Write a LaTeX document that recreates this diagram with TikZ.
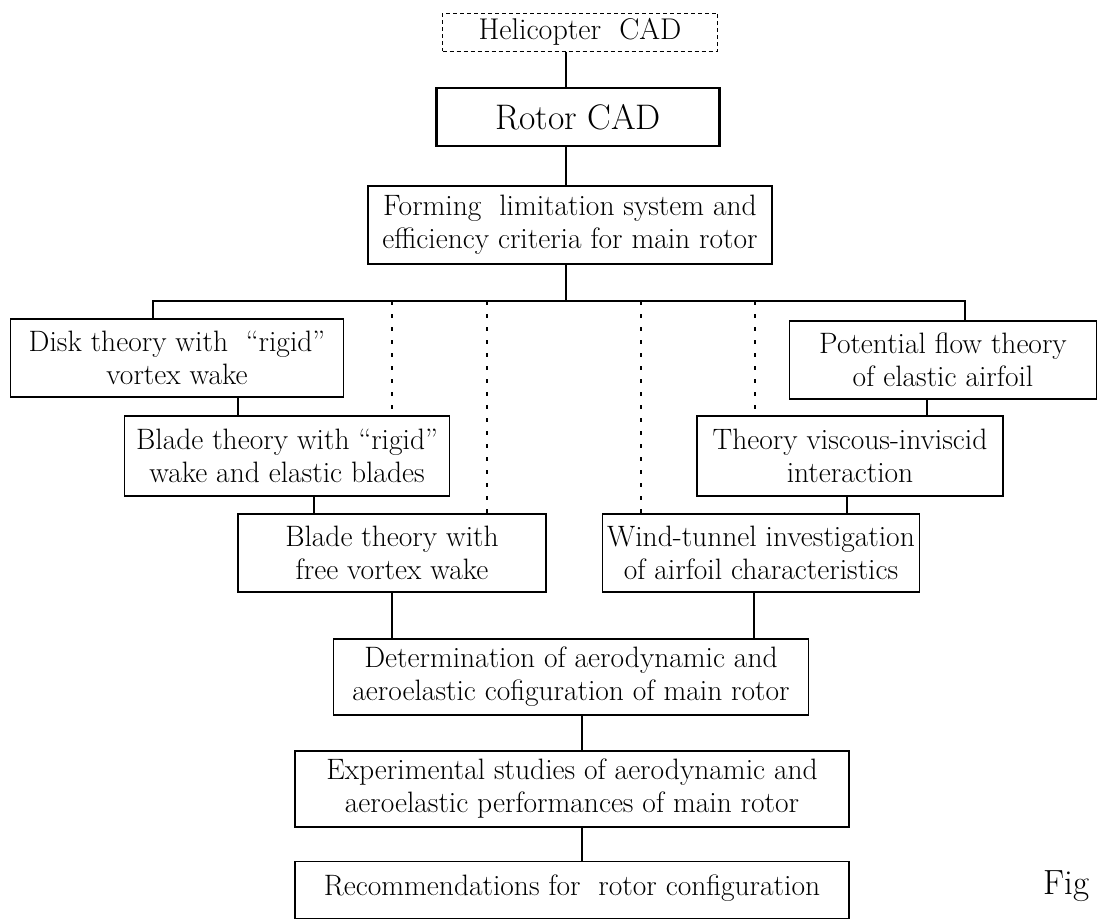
\documentclass[tikz,border=0pt]{standalone}
\begin{document}
\begin{tikzpicture}[x=1pt,y=-1pt,
  box/.style={draw, line width=1.8pt, rectangle, inner sep=0pt, align=center,
    font=\fontsize{29.5}{33}\selectfont},
  conn/.style={line width=1.2pt},
  dotline/.style={line width=1.5pt, dash pattern=on 4pt off 9pt},
]
\useasboundingbox (0,0) rectangle (1101,922);
% nodes
\node[box, line width=1pt, dash pattern=on 4pt off 3pt, minimum width=275, minimum height=38, font=\fontsize{30}{34}\selectfont] (heli) at (580,32) {Helicopter\ \ CAD};
\node[box, line width=2.6pt, minimum width=283, minimum height=58, font=\fontsize{35.5}{40}\selectfont] (rotor) at (578,117) {Rotor CAD};
\node[box, minimum width=404, minimum height=78] (form) at (570,225) {Forming\ \ limitation system and\\efficiency criteria for main rotor};
\node[box, minimum width=333, minimum height=78] (disk) at (177,358) {Disk theory with\ \ ``rigid''\\vortex wake};
\node[box, minimum width=325, minimum height=80] (bright) at (287,456) {Blade theory with ``rigid''\\wake and elastic blades};
\node[box, minimum width=308, minimum height=78] (bfree) at (392,553) {Blade theory with\\free vortex wake};
\node[box, minimum width=307, minimum height=78] (pot) at (943,360) {Potential flow theory\\of elastic airfoil};
\node[box, minimum width=306, minimum height=80] (theory) at (850,456) {Theory viscous-inviscid\\interaction};
\node[box, minimum width=317, minimum height=78] (wind) at (761,553) {Wind-tunnel investigation\\of airfoil characteristics};
\node[box, minimum width=475, minimum height=76] (det) at (571,677) {Determination of aerodynamic and\\aeroelastic cofiguration of main rotor};
\node[box, minimum width=554, minimum height=76] (exp) at (572,789) {Experimental studies of aerodynamic and\\aeroelastic performances of main rotor};
\node[box, minimum width=554, minimum height=57, text height=21pt, text depth=11pt] (rec) at (572,890) {Recommendations for\ \ rotor configuration};
\node[font=\fontsize{35}{40}\selectfont, inner sep=0pt, anchor=west] (fig) at (1043,886) {Fig};
% coordinates
\coordinate (cx) at (566,0);
\coordinate (bL) at (153,301);
\coordinate (bR) at (965,301);
\coordinate (d1) at (392,301);
\coordinate (d2) at (487,301);
\coordinate (d3) at (641,301);
\coordinate (d4) at (755,301);
\coordinate (c1) at (238,0);
\coordinate (c2) at (314,0);
\coordinate (c3) at (927,0);
\coordinate (c4) at (847,0);
\coordinate (c5) at (392,0);
\coordinate (c6) at (754,0);
\coordinate (c7) at (582,0);
% connectors
\draw[conn] (cx |- heli.south) -- (cx |- rotor.north);
\draw[conn] (cx |- rotor.south) -- (cx |- form.north);
\draw[conn] (cx |- form.south) -- (cx |- bL);
\draw[conn] (bL |- disk.north) -- (bL) -- (bR) -- (bR |- pot.north);
\draw[dotline] (d1) -- (d1 |- bright.north);
\draw[dotline] (d2) -- (d2 |- bfree.north);
\draw[dotline] (d3) -- (d3 |- wind.north);
\draw[dotline] (d4) -- (d4 |- theory.north);
\draw[conn] (c1 |- disk.south) -- (c1 |- bright.north);
\draw[conn] (c2 |- bright.south) -- (c2 |- bfree.north);
\draw[conn] (c3 |- pot.south) -- (c3 |- theory.north);
\draw[conn] (c4 |- theory.south) -- (c4 |- wind.north);
\draw[conn] (c5 |- bfree.south) -- (c5 |- det.north);
\draw[conn] (c6 |- wind.south) -- (c6 |- det.north);
\draw[conn] (c7 |- det.south) -- (c7 |- exp.north);
\draw[conn] (c7 |- exp.south) -- (c7 |- rec.north);
\end{tikzpicture}
\end{document}
